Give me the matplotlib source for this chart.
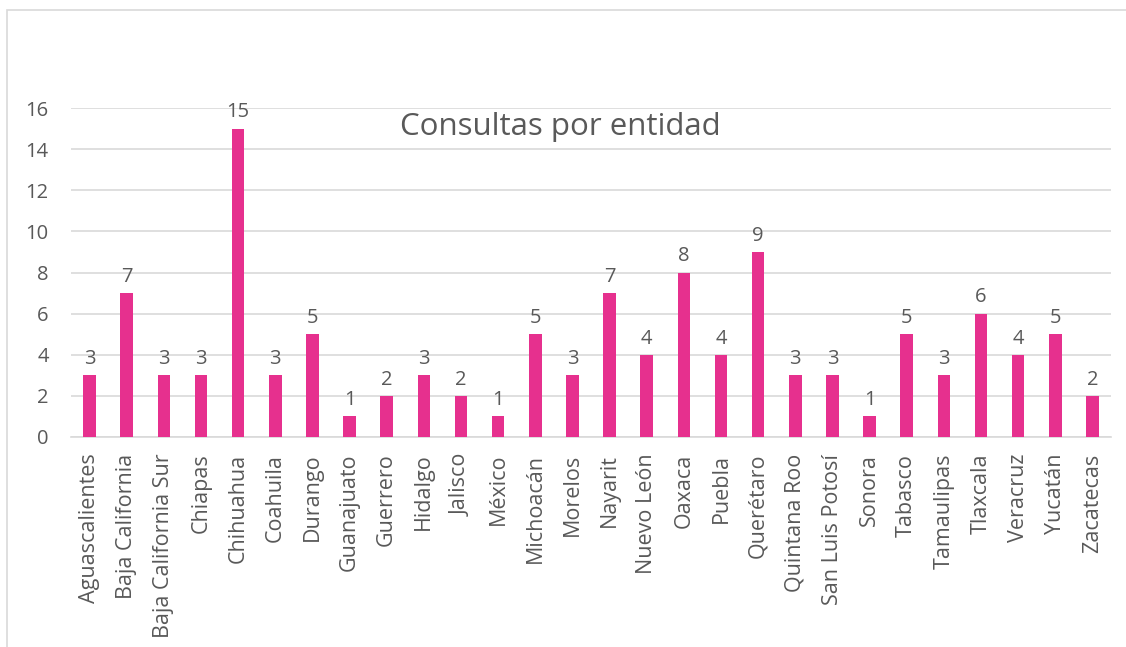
import matplotlib
matplotlib.use("Agg")
import matplotlib.pyplot as plt
from matplotlib.patches import Rectangle

categories = ["Aguascalientes", "Baja California", "Baja California Sur", "Chiapas",
              "Chihuahua", "Coahuila", "Durango", "Guanajuato", "Guerrero", "Hidalgo",
              "Jalisco", "México", "Michoacán", "Morelos", "Nayarit", "Nuevo León",
              "Oaxaca", "Puebla", "Querétaro", "Quintana Roo", "San Luis Potosí",
              "Sonora", "Tabasco", "Tamaulipas", "Tlaxcala", "Veracruz", "Yucatán",
              "Zacatecas"]
values = [3, 7, 3, 3, 15, 3, 5, 1, 2, 3, 2, 1, 5, 3, 7, 4, 8, 4, 9, 3, 3, 1, 5, 3, 6, 4, 5, 2]
yticks = [0, 2, 4, 6, 8, 10, 12, 14, 16]
title = "Consultas por entidad"

plt.rcParams['font.family'] = ['Open Sans', 'DejaVu Sans']
text_color = "#595959"
grid_color = "#d9d9d9"
bar_color = "#E6308E"

fig = plt.figure(figsize=(11.26, 6.47), dpi=100)
fig.patches.append(Rectangle((7/1126, -0.1), 1.2, 1 - 10/647 + 0.1, transform=fig.transFigure,
                             fill=False, edgecolor=grid_color, linewidth=1.2))

ax = fig.add_axes([71/1126, 1 - 437/647, (1111 - 71)/1126, (437 - 108)/647])
x = list(range(len(categories)))
ax.bar(x, values, width=0.34, color=bar_color, zorder=3)
for xi, v in zip(x, values):
    ax.text(xi, v + 0.3, str(v), ha="center", va="bottom", fontsize=14.5,
            color=text_color, clip_on=False)

ax.set_xlim(-0.5, len(categories) - 0.5)
ax.set_ylim(0, 16)
ax.set_yticks(yticks)
ax.set_yticklabels([str(t) for t in yticks], fontsize=14.5, color=text_color)
ax.set_xticks(x)
ax.set_xticklabels(categories, rotation=90, fontsize=15.5, color=text_color)
ax.tick_params(axis="y", length=0, pad=16)
ax.tick_params(axis="x", length=0, pad=12)
ax.grid(axis="y", color=grid_color, linewidth=1.2, zorder=0)
for s in ["top", "right", "left"]:
    ax.spines[s].set_visible(False)
ax.spines["bottom"].set_color(grid_color)
ax.spines["bottom"].set_linewidth(1.2)

fig.text(560/1126, 1 - 127/647, title, ha="center", va="center", fontsize=22.5, color=text_color)

fig.savefig("out.png", dpi=100)
